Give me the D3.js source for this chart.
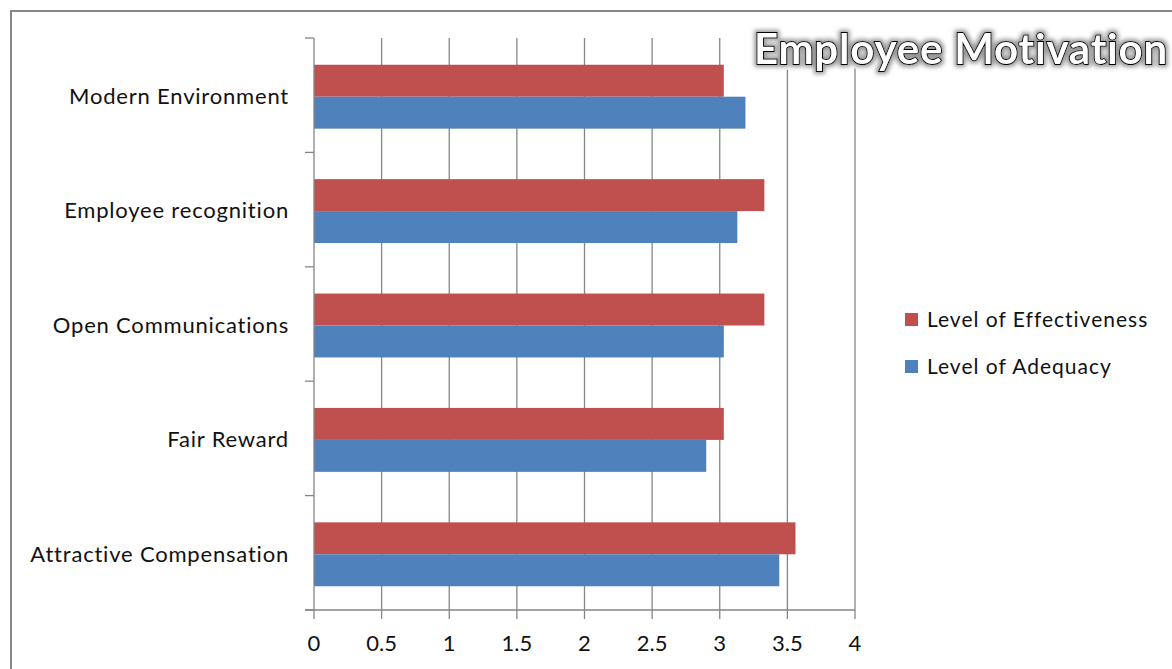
<!DOCTYPE html>
<html>
<head>
<meta charset="utf-8">
<script src="https://cdn.jsdelivr.net/npm/d3@7"></script>
<style>
  html, body { margin: 0; padding: 0; background: #fff; }
  svg { display: block; }
  text { font-family: Lato, "Open Sans", sans-serif; }
</style>
</head>
<body>
<svg id="chart" width="1172" height="669"></svg>
<script>
// Categories, listed top to bottom
const categories = [
  "Modern Environment",
  "Employee recognition",
  "Open Communications",
  "Fair Reward",
  "Attractive Compensation"
];
const seriesNames = ["Level of Effectiveness", "Level of Adequacy"];
const effectiveness = [3.03, 3.33, 3.33, 3.03, 3.56];
const adequacy      = [3.19, 3.13, 3.03, 2.90, 3.44];
const xTicks = [0, 0.5, 1, 1.5, 2, 2.5, 3, 3.5, 4];
const xTickLabels = ["0", "0.5", "1", "1.5", "2", "2.5", "3", "3.5", "4"];
const colors = ["#C0504D", "#4F81BD"];

const svg = d3.select("#chart");
const gridColor = "#868686";

// Outer frame
svg.append("path")
  .attr("d", "M11,669 L11,11 L1172,11")
  .attr("fill", "none")
  .attr("stroke", gridColor)
  .attr("stroke-width", 2);

const plot = { left: 314, right: 855, top: 38, bottom: 610 };

const x = d3.scaleLinear().domain([0, 4]).range([plot.left, plot.right]);
const y = d3.scaleBand().domain(categories).range([plot.top, plot.bottom]).paddingInner(0).paddingOuter(0);
const inner = d3.scaleBand().domain(seriesNames)
  .range([1.5, y.bandwidth() + 1.5]).paddingOuter(0.79).paddingInner(0);

// Vertical gridlines
svg.append("g").selectAll("line")
  .data(xTicks.slice(1))
  .join("line")
  .attr("x1", d => x(d)).attr("x2", d => x(d))
  .attr("y1", plot.top).attr("y2", plot.bottom)
  .attr("stroke", gridColor)
  .attr("stroke-width", 1.3);

// Bars
const rows = categories.map((c, i) => ({ cat: c, vals: [effectiveness[i], adequacy[i]] }));
const groups = svg.append("g").selectAll("g")
  .data(rows)
  .join("g")
  .attr("transform", d => `translate(0,${y(d.cat)})`);
groups.selectAll("rect")
  .data(d => d.vals.map((v, j) => ({ v, s: seriesNames[j], j })))
  .join("rect")
  .attr("x", x(0))
  .attr("y", d => inner(d.s))
  .attr("width", d => x(d.v) - x(0))
  .attr("height", inner.bandwidth())
  .attr("fill", d => colors[d.j]);

// Y axis (category axis) with ticks between categories
const yAxis = svg.append("g");
yAxis.append("line")
  .attr("x1", x(0)).attr("x2", x(0))
  .attr("y1", plot.top).attr("y2", plot.bottom)
  .attr("stroke", gridColor).attr("stroke-width", 1.3);
const bounds = categories.map(c => y(c)).concat([plot.bottom]);
yAxis.selectAll("line.tick")
  .data(bounds)
  .join("line")
  .attr("class", "tick")
  .attr("x1", x(0) - 9).attr("x2", x(0))
  .attr("y1", d => d).attr("y2", d => d)
  .attr("stroke", gridColor).attr("stroke-width", 1.3);
yAxis.selectAll("text")
  .data(categories)
  .join("text")
  .attr("x", 289)
  .attr("y", d => y(d) + y.bandwidth() / 2 + 1)
  .attr("dy", "0.35em")
  .attr("text-anchor", "end")
  .attr("font-size", 22)
  .attr("letter-spacing", 0.8)
  .attr("fill", "#111")
  .text(d => d);

// X axis (value axis)
const xAxis = svg.append("g");
xAxis.append("line")
  .attr("x1", x(0) - 9).attr("x2", plot.right)
  .attr("y1", plot.bottom).attr("y2", plot.bottom)
  .attr("stroke", gridColor).attr("stroke-width", 1.3);
xAxis.selectAll("line.tick")
  .data(xTicks)
  .join("line")
  .attr("class", "tick")
  .attr("x1", d => x(d)).attr("x2", d => x(d))
  .attr("y1", plot.bottom).attr("y2", plot.bottom + 9)
  .attr("stroke", gridColor).attr("stroke-width", 1.3);
xAxis.selectAll("text")
  .data(xTicks)
  .join("text")
  .attr("x", d => x(d))
  .attr("y", 643)
  .attr("dy", "0.35em")
  .attr("text-anchor", "middle")
  .attr("font-size", 22)
  .attr("fill", "#111")
  .text((d, i) => xTickLabels[i]);

// Legend
const legend = svg.append("g").selectAll("g")
  .data(seriesNames)
  .join("g")
  .attr("transform", (d, i) => `translate(905,${313 + i * 47})`);
legend.append("rect")
  .attr("width", 13).attr("height", 13)
  .attr("fill", (d, i) => colors[i]);
legend.append("text")
  .attr("x", 22).attr("y", 7)
  .attr("dy", "0.35em")
  .attr("font-size", 21)
  .attr("letter-spacing", 1)
  .attr("fill", "#111")
  .text(d => d);

// Title with outline, white halo and soft gray glow
const defs = svg.append("defs");
const glow = defs.append("filter").attr("id", "glow")
  .attr("x", "-10%").attr("y", "-40%").attr("width", "120%").attr("height", "180%");
glow.append("feMorphology").attr("in", "SourceAlpha").attr("operator", "dilate").attr("radius", 2).attr("result", "fat");
glow.append("feGaussianBlur").attr("in", "fat").attr("stdDeviation", 2).attr("result", "blur");
glow.append("feFlood").attr("flood-color", "#999").attr("result", "col");
glow.append("feComposite").attr("in", "col").attr("in2", "blur").attr("operator", "in").attr("result", "shadow");
const m = glow.append("feMerge");
m.append("feMergeNode").attr("in", "shadow");
m.append("feMergeNode").attr("in", "SourceGraphic");

const titleAttrs = sel => sel
  .attr("x", 1168).attr("y", 49)
  .attr("dy", "0.35em")
  .attr("text-anchor", "end")
  .attr("font-size", 42)
  .attr("font-weight", "bold")
  .attr("letter-spacing", 0.8)
  .text("Employee Motivation");

svg.append("text").call(titleAttrs)
  .attr("fill", "#fff")
  .attr("stroke", "#fff")
  .attr("stroke-width", 12)
  .attr("stroke-linejoin", "round");

svg.append("text").call(titleAttrs)
  .attr("fill", "#fff")
  .attr("stroke", "#000")
  .attr("stroke-width", 2)
  .attr("paint-order", "stroke")
  .attr("filter", "url(#glow)");
</script>
</body>
</html>
